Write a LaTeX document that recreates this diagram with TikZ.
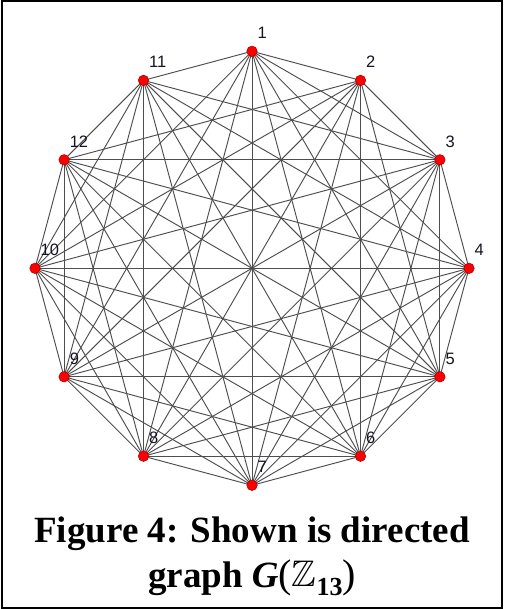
\documentclass[tikz,border=0pt]{standalone}
\usepackage{fontspec}
\usepackage{amssymb}
\setmainfont{Liberation Serif}
\newfontfamily\numfont{Liberation Sans}
\usetikzlibrary{backgrounds,calc}
\definecolor{edgegray}{RGB}{78,78,78}
\definecolor{vred}{RGB}{255,0,0}
\definecolor{vrim}{RGB}{160,0,0}
\definecolor{numink}{RGB}{20,20,35}
\begin{document}
\begin{tikzpicture}[x=1pt,y=-1pt,
  vtx/.style={circle,fill=vred,draw=vrim,line width=0.5pt,minimum size=10.5pt,inner sep=0pt},
  conn/.style={draw=edgegray,line width=0.95pt},
  vlabel/.style={font=\numfont\fontsize{16.5}{16.5}\selectfont,text=numink,inner sep=0pt,anchor=base west},
  captext/.style={font=\bfseries\fontsize{37}{45}\selectfont,inner sep=0pt,anchor=base}]
\useasboundingbox (0,0) rectangle (504,609);
\draw[line width=2pt] (1.5,1.5) rectangle (501.5,607.5);

% vertices on a circle, label/angle
\foreach \n/\ang in {1/90,2/60,3/30,4/0,5/-30,6/-60,7/-90,8/-120,9/-150,10/180,12/150,11/120}{
  \node[vtx] (v\n) at ({252+217*cos(\ang)},{268.3-217*sin(\ang)}) {};
  \node[vlabel] (l\n) at ($(v\n.center)+(5.5,-12.5)$) {\n};
}

% connections
\begin{scope}[on background layer]
\foreach \a/\nbrs in {1/{2,3,4,5,6,7,8,9,10,11},
                      2/{3,5,6,7,8,9,10,12},
                      3/{4,5,6,7,8,9,10,11,12},
                      4/{5,6,7,8,9,10,11,12},
                      5/{6,7,8,9,10,11,12},
                      6/{7,8,9,10,11,12},
                      7/{8,9,10,11,12},
                      8/{9,10,11,12},
                      9/{10,11,12},
                      10/{11,12},
                      11/{12}}{
  \foreach \b in \nbrs { \draw[conn] (v\a.center) -- (v\b.center); }
}
\end{scope}

% caption
\node[captext] (cap1) at (252,542) {Figure 4: Shown is directed};
\node[captext] (cap2) at (252,587) {graph \textit{G}{\mdseries\fontsize{40}{40}\selectfont(}\raisebox{0.02em}{$\mathbb{Z}$}\raisebox{-0.22em}{\fontsize{26}{26}\selectfont 13}{\mdseries\fontsize{40}{40}\selectfont)}};
\end{tikzpicture}
\end{document}
